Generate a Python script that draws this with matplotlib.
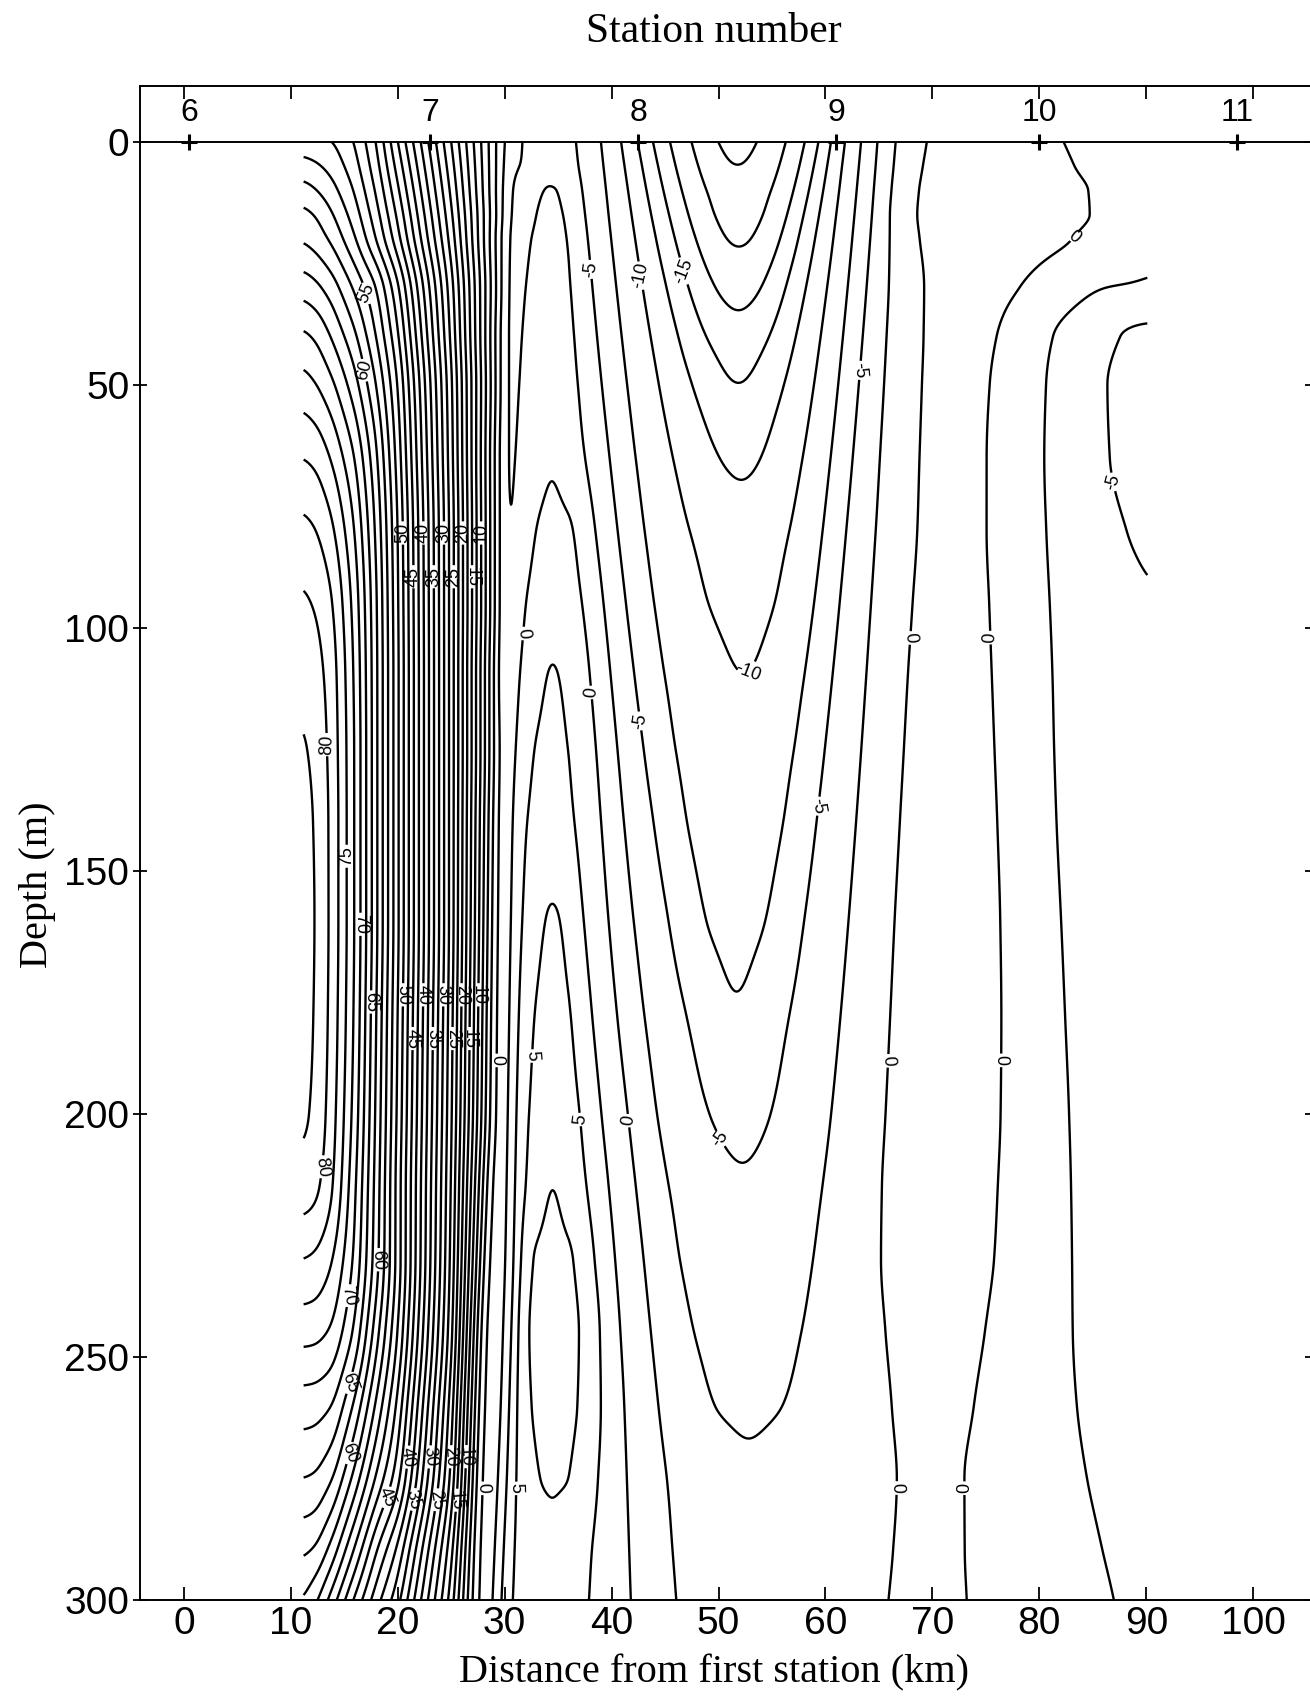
import numpy as np
import matplotlib.pyplot as plt

plt.rcParams['font.family'] = ['Liberation Sans', 'DejaVu Sans']

# ---- section data (distance km, depth m, speed cm/s) ----
depth_m = [0, 5, 10, 15, 20, 30, 40, 50, 65, 80, 95, 110, 125, 140, 160, 180,
           200, 215, 230, 245, 260, 275, 290, 300]
west_km, east_km = 11.2, 90.1

stations = [6, 7, 8, 9, 10, 11]
station_km = [0.5, 23.0, 42.5, 61.0, 80.0, 98.5]

# jet on the west side: values at fixed distances, one row per depth
jet_km = [11.2, 12.5, 14, 16, 18, 20, 25]
jet_val = [
    [51.0, 50.6, 50.0, 47.4, 42.5, 35.0, 17.5],
    [53.5, 52.8, 51.5, 48.5, 43.5, 36.5, 18.5],
    [56.0, 55.0, 53.2, 49.8, 44.7, 38.0, 19.5],
    [58.2, 57.2, 55.0, 51.2, 46.0, 39.5, 20.5],
    [59.8, 58.8, 56.8, 52.8, 47.5, 41.0, 21.5],
    [64.0, 63.0, 61.0, 57.0, 52.5, 45.5, 23.5],
    [68.0, 67.0, 64.5, 60.5, 55.0, 48.0, 24.5],
    [71.0, 70.0, 67.8, 63.5, 57.5, 50.0, 25.5],
    [75.0, 74.3, 72.0, 67.5, 60.5, 51.5, 26.0],
    [78.2, 77.5, 75.3, 70.0, 62.0, 52.5, 26.5],
    [80.4, 79.7, 77.5, 71.5, 62.8, 52.8, 26.5],
    [81.7, 81.0, 78.5, 72.2, 63.0, 53.0, 26.5],
    [82.8, 81.8, 78.8, 72.5, 63.0, 53.0, 26.5],
    [83.3, 82.2, 79.0, 72.5, 63.0, 53.0, 26.5],
    [83.6, 82.3, 79.0, 72.5, 63.0, 53.0, 26.5],
    [83.4, 82.2, 78.8, 72.2, 62.5, 52.5, 26.0],
    [83.0, 81.8, 78.3, 71.5, 62.0, 52.0, 25.5],
    [81.3, 80.5, 77.5, 70.5, 61.5, 51.5, 25.0],
    [77.5, 77.0, 75.0, 69.5, 61.0, 51.5, 24.5],
    [73.4, 73.2, 72.0, 67.0, 58.5, 50.0, 23.5],
    [68.8, 68.6, 67.5, 62.0, 54.5, 47.0, 21.5],
    [65.0, 64.6, 62.5, 56.5, 49.5, 43.5, 19.5],
    [60.4, 59.5, 56.0, 49.5, 42.5, 37.0, 16.0],
    [57.5, 55.2, 51.0, 44.5, 38.5, 33.5, 14.0],
]
jet_zero_km = [29.9, 29.85, 29.8, 29.8, 29.7, 29.7, 29.6, 29.6, 29.5, 29.5, 29.5, 29.4,
               29.4, 29.3, 29.2, 29.1, 29.0, 28.7, 28.4, 28.1, 27.9, 27.7, 27.5, 27.4]
jet_m25_km = [31.3, 30.8, 30.5, 30.3, 30.2, 30.1, 30.05, 30.0, 29.95, 29.95, 29.9, 29.9] + [None] * 12

# weak minimum between the jet and the eddy column
gap_km = [None, None, 31.0, 31.4, 31.2, 30.95, 30.8, 30.65, 30.5, 30.4, 30.25, 30.15,
          30.15, 30.0, 29.9, 29.8, 29.7, 29.5, 29.3, 29.05, 28.85, 28.6, 28.35, 28.2]
gap_val = [None, None, -3.0, -3.2, -3.3, -3.3, -3.2, -3.1, -3.0, -2.9, -2.8, -2.7,
           -2.45, -2.2, -2.0, -1.9, -1.8, -1.8, -1.7, -1.7, -1.6, -1.6, -1.5, -1.5]

# eddy column near 34 km
core_km = 34.4
core_val = [-3.2, -2.8, -2.4, -2.2, -2.0, -1.6, -1.15, -0.75, -0.05, 0.9, 1.8, 2.8,
            3.4, 4.1, 5.3, 6.1, 6.9, 7.6, 8.2, 8.5, 8.3, 7.75, 7.1, 6.8]
eddy_left = {
    -2.5: [None, None, 33.6, 32.8, 32.3, 31.8, 31.5, 31.3, 31.0, 30.8, 30.6, 30.45] + [None] * 12,
    0.0: [None] * 9 + [32.8, 31.8, 31.2, 30.9, 30.7, 30.6, 30.5, 30.4, 30.3, 30.2, 30.0,
                       29.8, 29.5, 29.2, 29.0],
    2.5: [None] * 11 + [33.8, 32.6, 31.9, 31.5, 31.2, 31.0, 30.9, 30.8, 30.6, 30.4, 30.2,
                        29.9, 29.7],
    5.0: [None] * 14 + [33.6, 32.6, 32.1, 31.8, 31.5, 31.3, 31.1, 30.9, 30.6, 30.4],
    7.5: [None] * 17 + [34.0, 32.3, 31.9, 32.2, 33.0, None, None],
}
eddy_right = {
    -2.5: [None, None, 35.3, 35.8, 36.1, 36.4, 36.7, 37.03, 37.7, 38.4, 39.1, 39.7, 40.3,
           40.9, 41.8, 42.8, 43.9, 44.9, 45.9, 47.2, 49.0, None, None, None],
    0.0: [None] * 9 + [36.7, 37.6, 38.3, 38.8, 39.2, 39.8, 40.6, 41.6, 42.3, 43.0, 43.6,
                       44.2, 44.8, 45.3, 45.6],
    2.5: [None] * 11 + [35.2, 36.0, 36.6, 37.3, 38.0, 38.8, 39.5, 40.1, 40.6, 41.0, 41.3,
                        41.6, 41.8],
    5.0: [None] * 14 + [35.4, 36.4, 37.3, 37.9, 38.4, 38.8, 38.9, 38.7, 38.3, 38.0],
    7.5: [None] * 17 + [34.9, 36.8, 37.5, 37.3, 36.3, None, None],
}

# southward trough near 52 km
trough_km = [51.75, 51.75, 51.8, 51.85, 51.9, 51.9, 51.9, 51.9, 52.1, 52.4, 52.5, 52.6,
             52.3, 52.0, 51.8, 51.7, 52.0, 52.3, 52.4, 52.5, 52.5, 52.5, 52.5, 52.5]
trough_min = [-24.0, -23.0, -22.0, -21.4, -20.6, -19.0, -17.0, -15.3, -13.4, -11.8, -10.9,
              -10.1, -9.6, -9.1, -8.3, -7.55, -6.2, -4.95, -4.3, -3.6, -2.9, -2.35, -1.9, -1.6]
trough_left = {
    -5.0: [36.75, 36.97, 37.19, 37.4, 37.63, 38.09, 38.55, 39.03, 39.77, 40.53, 41.32, 42.16,
           43.06, 44.01, 45.4, 47.03, 49.08] + [None] * 7,
    -7.5: [39.1, 39.31, 39.53, 39.74, 39.96, 40.4, 40.85, 41.32, 42.05, 42.82, 43.64, 44.52,
           45.46, 46.53, 48.24, 51.15] + [None] * 8,
    -10.0: [41.0, 41.31, 41.63, 41.95, 42.28, 42.96, 43.68, 44.43, 45.66, 47.06, 48.75,
            51.29] + [None] * 12,
    -12.5: [42.5, 42.92, 43.34, 43.78, 44.24, 45.21, 46.27, 47.49, 49.91] + [None] * 15,
    -15.0: [43.8, 44.28, 44.78, 45.31, 45.86, 47.09, 48.58, 50.86] + [None] * 16,
    -17.5: [45.3, 45.85, 46.44, 47.07, 47.76, 49.47] + [None] * 18,
    -20.0: [47.4, 47.97, 48.61, 49.33, 50.24] + [None] * 19,
    -22.5: [49.8, 50.85] + [None] * 22,
}
trough_right = {
    -2.5: [66.4, 66.3, 66.19, 66.08, 65.98, 65.76, 65.54, 65.32, 64.95, 64.58, 64.19, 63.79,
           63.36, 62.9, 62.23, 61.48, 60.63, 59.9, 59.03, 57.95, 56.36] + [None] * 3,
    -5.0: [64.8, 64.63, 64.45, 64.28, 64.09, 63.73, 63.35, 62.96, 62.38, 61.76, 61.13, 60.45,
           59.73, 58.96, 57.85, 56.54, 54.89] + [None] * 7,
    -7.5: [63.4, 63.2, 63.0, 62.8, 62.6, 62.19, 61.77, 61.34, 60.66, 59.95, 59.19, 58.37,
           57.49, 56.5, 54.92, 52.21] + [None] * 8,
    -10.0: [61.7, 61.45, 61.21, 60.95, 60.7, 60.16, 59.6, 59.01, 58.04, 56.95, 55.62,
            53.63] + [None] * 12,
    -12.5: [60.4, 60.05, 59.69, 59.32, 58.93, 58.11, 57.21, 56.19, 54.14] + [None] * 15,
    -15.0: [59.4, 58.96, 58.49, 58.0, 57.5, 56.36, 54.98, 52.87] + [None] * 16,
    -17.5: [58.3, 57.77, 57.2, 56.58, 55.92, 54.26] + [None] * 18,
    -20.0: [56.5, 55.92, 55.27, 54.53, 53.6] + [None] * 19,
    -22.5: [53.7, 52.65] + [None] * 22,
}

# east side: two zero lines, weak ridge between them, -2.5 line and -5 lobe
e_zero_km = [68.7, 68.2, 67.7, 67.5, 67.9, 68.7, 68.8, 68.7, 68.5, 68.3, 67.8, 67.3, 66.9,
             66.5, 66.0, 65.6, 65.2, 64.9, 64.9, 65.5, 66.3, 67.1, 66.8, 66.4]
a_zero_km = [82.3, 83.5, 85.0, 85.2, 83.4, 78.3, 76.2, 75.5, 75.2, 75.2, 75.5, 75.8, 76.1,
             76.4, 76.7, 76.8, 76.7, 76.4, 76.0, 75.0, 73.8, 72.7, 72.7, 72.9]
ridge_val = 1.2
d_km = [None] * 5 + [85.4, 81.2, 80.6, 80.4, 80.5, 80.7, 80.9, 81.0, 81.2, 81.6, 82.0, 82.4,
                     82.6, 82.7, 82.8, 83.2, 84.2, 85.7, 86.8]
lobe_km = [None] * 6 + [87.3, 86.05, 86.4, 88.0] + [None] * 14
east_val = [-1.5, -1.7, -1.9, -2.05, -2.2, -2.7, -5.6, -5.9, -6.0, -5.5, -4.9, -4.6, -4.4,
            -4.3, -4.1, -4.0, -3.9, -3.8, -3.7, -3.6, -3.4, -3.2, -3.0, -2.9]

# ---- grid the section ----
dx = 0.05
xg = np.arange(west_km, east_km + 1e-6, dx)
zq = np.arange(0, 300.01, 0.5)


def row_profile(i):
    pts = [(jet_km[k], jet_val[i][k]) for k in range(len(jet_km))]
    pts.append((jet_zero_km[i], 0.0))
    if jet_m25_km[i] is not None:
        pts.append((jet_m25_km[i], -2.5))
    if gap_km[i] is not None:
        pts.append((gap_km[i], gap_val[i]))
    pts.append((core_km, core_val[i]))
    for table in (eddy_left, eddy_right, trough_left, trough_right):
        for lev, xs in table.items():
            if xs[i] is not None:
                pts.append((xs[i], lev))
    pts.append((trough_km[i], trough_min[i]))
    pts.append((e_zero_km[i], 0.0))
    pts.append(((e_zero_km[i] + a_zero_km[i]) / 2, ridge_val))
    pts.append((a_zero_km[i], 0.0))
    if d_km[i] is not None:
        pts.append((d_km[i], -2.5))
    if lobe_km[i] is not None:
        pts.append((lobe_km[i], -5.0))
    pts.append((east_km, east_val[i]))
    pts.sort()
    kx, kv = zip(*pts)
    return np.interp(xg, kx, kv)


def smooth_x(prof, sigma):
    n = int(3 * sigma / dx)
    k = np.exp(-0.5 * (np.arange(-n, n + 1) * dx / sigma) ** 2)
    k /= k.sum()
    return np.convolve(np.pad(prof, n, mode='edge'), k, mode='valid')


def rounded(prof):
    # light rounding of the corners between the read points
    w = np.clip((xg - 36.0) / 2.0, 0, 1)
    return (1 - w) * smooth_x(prof, 0.45) + w * smooth_x(prof, 1.1)


def pchip_rows(z, Y, zz):
    # shape-preserving cubic between the depth rows
    z = np.asarray(z, float)
    h = np.diff(z)
    d = np.diff(Y, axis=0) / h[:, None]
    m = np.zeros_like(Y)
    m[0], m[-1] = d[0], d[-1]
    w1 = (2 * h[1:] + h[:-1])[:, None]
    w2 = (h[1:] + 2 * h[:-1])[:, None]
    with np.errstate(divide='ignore', invalid='ignore'):
        mm = (w1 + w2) / (w1 / d[:-1] + w2 / d[1:])
    m[1:-1] = np.where(d[:-1] * d[1:] > 0, mm, 0.0)
    k = np.clip(np.searchsorted(z, zz, side='right') - 1, 0, len(z) - 2)
    t = ((zz - z[k]) / h[k])[:, None]
    hk = h[k][:, None]
    h00 = 2 * t**3 - 3 * t**2 + 1
    h10 = t**3 - 2 * t**2 + t
    h01 = -2 * t**3 + 3 * t**2
    h11 = t**3 - t**2
    return h00 * Y[k] + h10 * hk * m[k] + h01 * Y[k + 1] + h11 * hk * m[k + 1]


rows = np.array([rounded(row_profile(i)) for i in range(len(depth_m))])
speed = pchip_rows(depth_m, rows, zq)

levels = np.arange(-25, 87.5, 2.5)
lev5 = [lv for lv in levels if abs(lv % 5) < 1e-9]
lev25 = [lv for lv in levels if abs(lv % 5) > 1e-9]

# ---- figure ----
fig = plt.figure(figsize=(13.1, 16.97), dpi=100)
ax = fig.add_axes([0.10687, 0.05716, 0.89466, 0.89216])

ax.contour(xg, zq, speed, levels=lev25, colors='k', linewidths=1.7, linestyles='solid')
cs = ax.contour(xg, zq, speed, levels=lev5, colors='k', linewidths=1.7, linestyles='solid')

# label positions (km, m) as in the original
label_spots = [(17.2, 31), (16.9, 47), (13.7, 124), (15.2, 147), (16.7, 161), (17.9, 177),
               (13.2, 211), (18.2, 230), (14.7, 237), (15.2, 255), (15.7, 270),
               (31.2, 101), (39.0, 113), (43.0, 119), (52.7, 109), (38.8, 26), (42.0, 28),
               (45.5, 28), (63.1, 47), (60.0, 137), (83.4, 20), (86.9, 70), (67.6, 102),
               (75.6, 102), (29.1, 189), (32.1, 188), (37.5, 201), (42.5, 201), (48.8, 208),
               (65.4, 189), (76.8, 189), (27.7, 277), (30.5, 277), (67.2, 277), (72.6, 277)]

# rows of crowded labels across the jet core, staggered in depth
for dep in (85, 180, 275):
    prof = speed[int(round(dep / 0.5))]
    inner = [lv for lv in lev5 if 10 <= lv <= 50]
    for n, lv in enumerate(inner):
        hit = np.where((xg[:-1] > 18.0) & (np.sign(prof[:-1] - lv) != np.sign(prof[1:] - lv)))[0]
        if hit.size:
            label_spots.append((xg[hit[0]], dep + (4.5 if n % 2 else -4.5)))

ax.clabel(cs, manual=label_spots, inline=True, inline_spacing=2,
          fontsize=13, fmt=lambda v: f"{v:.0f}")

ax.axhline(0, color='k', lw=1.4)
ax.plot(station_km, [0] * len(station_km), '+', color='k', ms=11, mew=2.2, clip_on=False)
for n, km in zip(stations, station_km):
    ax.text(km, -5.9, str(n), ha='center', va='center', fontsize=23)

ax.set_xlim(-4.1, 105.5)
ax.set_ylim(300, -11.45)
ax.set_xticks(range(0, 101, 10))
ax.set_yticks(range(0, 301, 50))
ax.tick_params(axis='x', direction='in', length=9.5, width=1.3, top=True,
               labeltop=False, labelsize=28, pad=4)
ax.tick_params(axis='y', direction='inout', length=9.5, width=1.3, right=True,
               labelsize=28, pad=3)
for sp in ax.spines.values():
    sp.set_linewidth(1.4)

fig.text(0.545, 0.981, 'Station number', family='Liberation Serif', fontsize=30,
         ha='center', va='center')
fig.text(0.545, 0.0141, 'Distance from first station (km)', family='Liberation Serif',
         fontsize=29, ha='center', va='center')
fig.text(0.029, 0.4785, 'Depth (m)', family='Liberation Serif', fontsize=29,
         rotation=90, ha='center', va='center')

fig.savefig('out.png', dpi=100)
